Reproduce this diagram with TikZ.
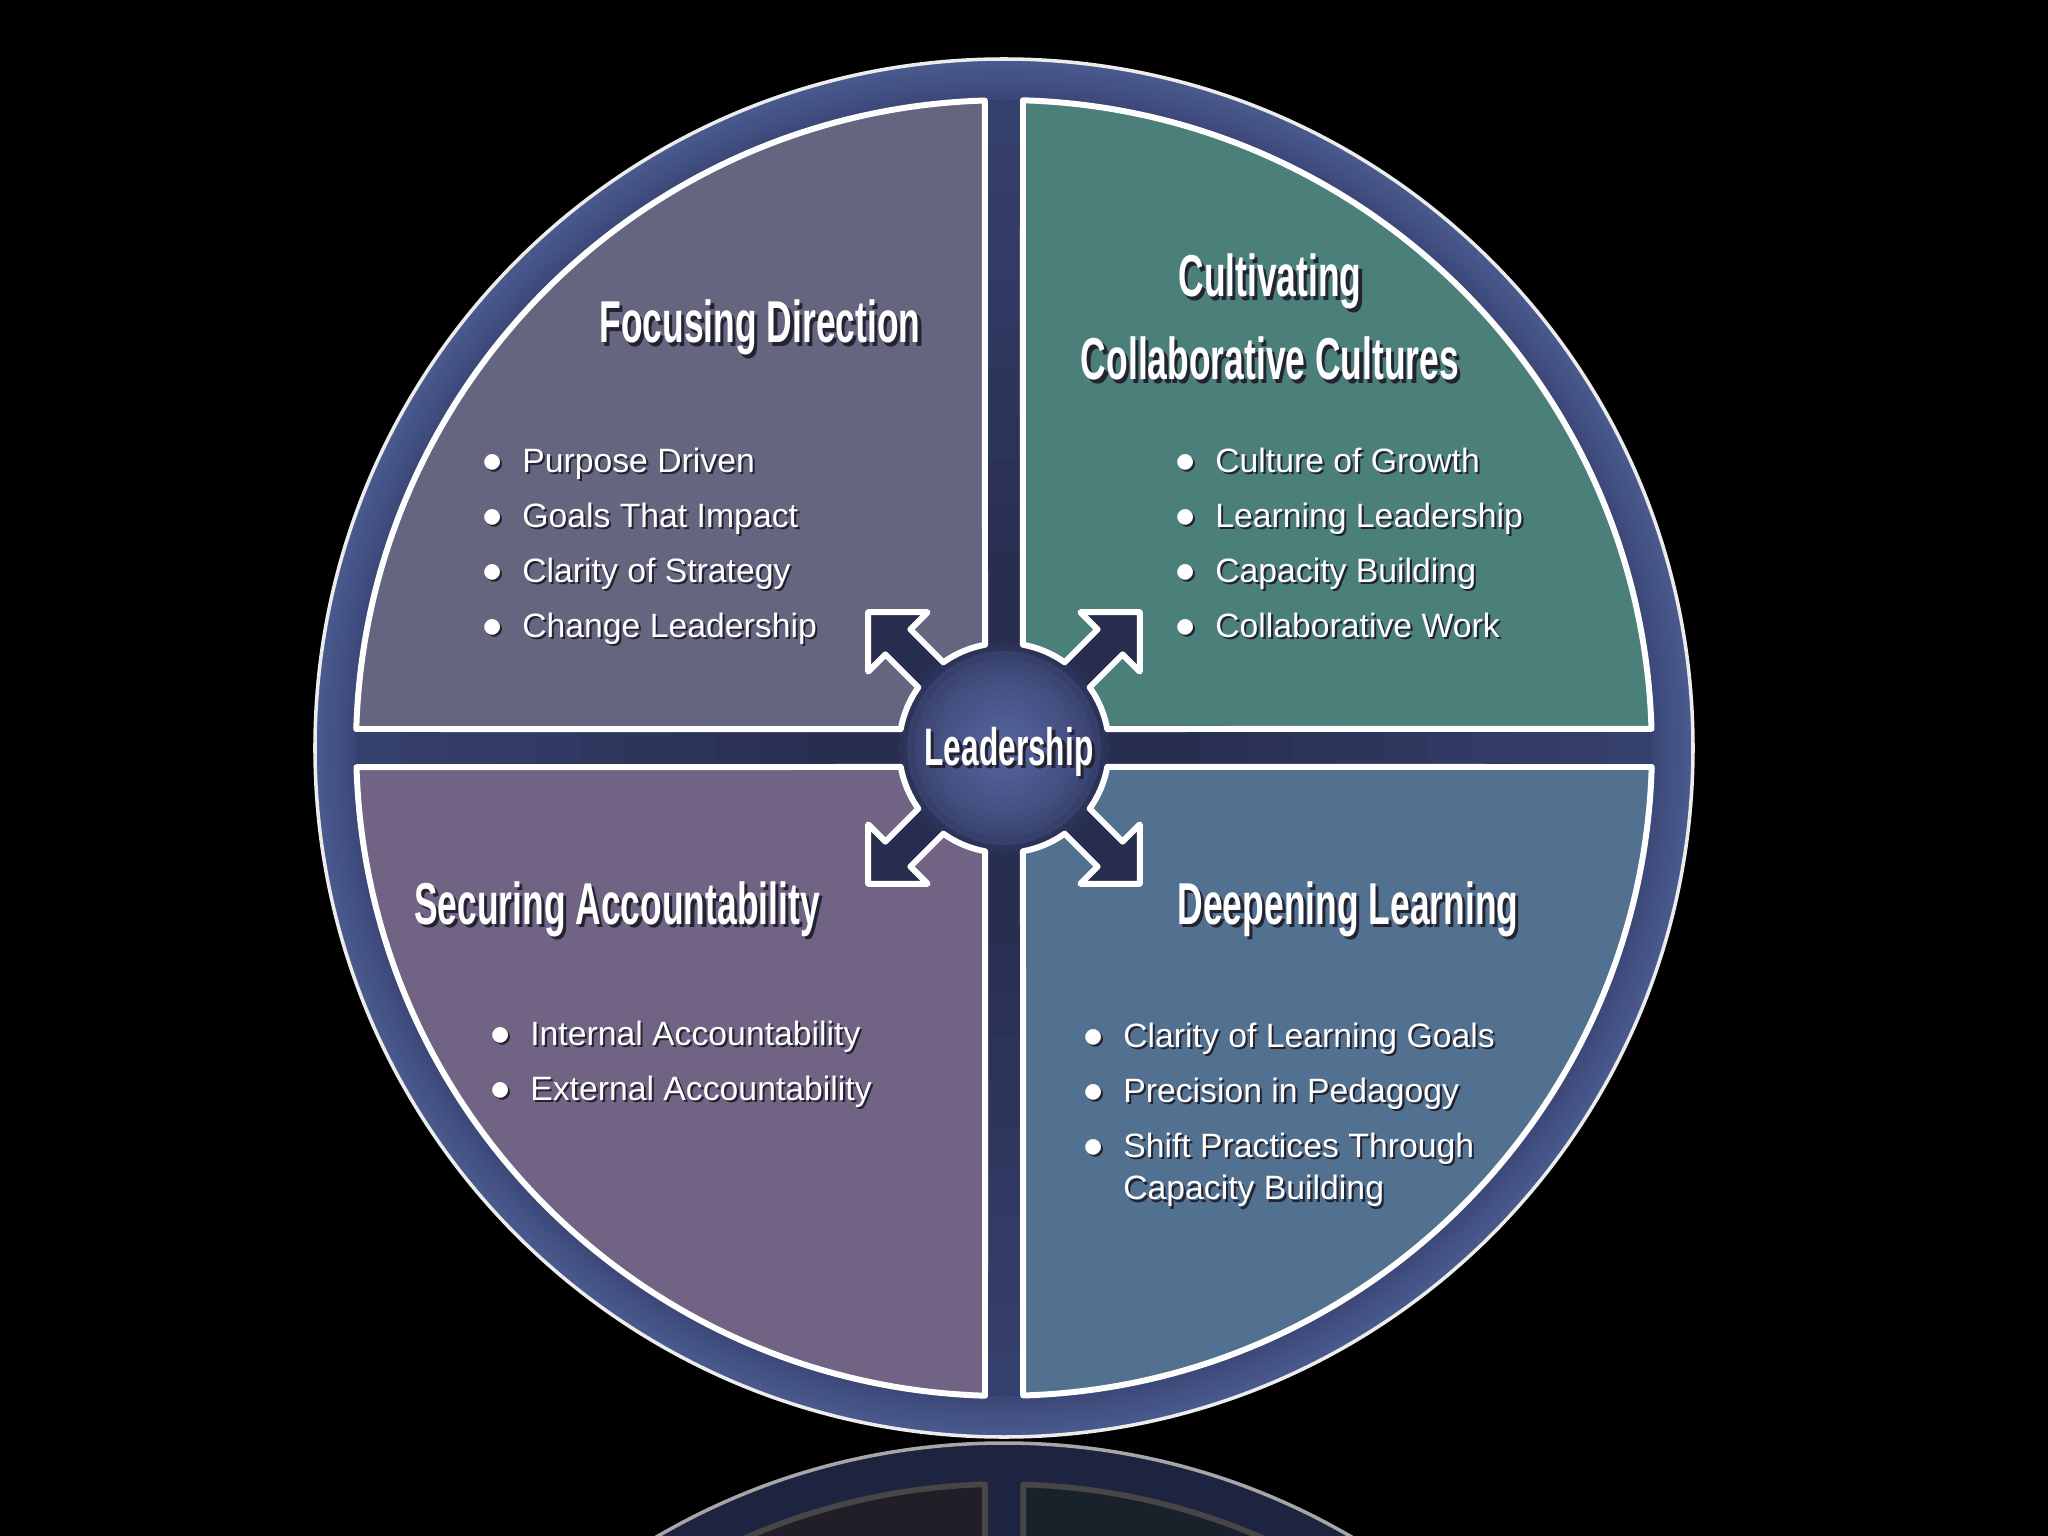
\documentclass[tikz,border=0pt]{standalone}
\usepackage{fontspec}
\usepackage{tikz}

\newfontfamily\headfont{Liberation Sans}[FakeStretch=0.6]
\newfontfamily\itemfont{Liberation Sans}

\definecolor{qteal}{RGB}{74,128,121}
\definecolor{qgray}{RGB}{101,101,128}
\definecolor{qpurple}{RGB}{112,99,132}
\definecolor{qblue}{RGB}{82,112,143}
\definecolor{bandD}{RGB}{40,46,80}
\definecolor{bandL}{RGB}{54,64,108}
\definecolor{ringA}{RGB}{58,70,118}
\definecolor{ringB}{RGB}{74,90,142}
\definecolor{hubC}{RGB}{84,98,156}
\definecolor{hubE}{RGB}{44,51,88}
\definecolor{reflring}{RGB}{30,35,64}
\definecolor{shadowc}{RGB}{35,35,50}

% text with a dark drop shadow
\newcommand{\shad}[2][0.9pt]{\makebox[0pt][l]{\hspace*{#1}\raisebox{-#1}{\color{shadowc}#2}}#2}
\newcommand{\bul}{\shad[0.6pt]{\scalebox{1.15}{$\bullet$}}}

% one quadrant (upper right), notched by the hub and its arrow
\newcommand{\quadpath}{(10.4:105) arc[start angle=10.4, end angle=35.3, radius=105]
  -- (118.6,93.6) -- (135.8,76.4) -- (135.8,135.8) -- (76.4,135.8) -- (93.6,118.6)
  -- (54.7:105) arc[start angle=54.7, end angle=79.6, radius=105]
  -- (19,647.7) arc[start angle=88.3, end angle=1.7, radius=648] -- cycle}

\tikzset{
  quad/.style={draw=white, line width=1.7pt, line join=round},
  head/.style={text=white, font=\headfont\bfseries\fontsize{16.8}{23.6}\selectfont, inner sep=0pt, anchor=base},
  items/.style={text=white, font=\itemfont\fontsize{9.6}{15.65}\selectfont, inner sep=0pt, anchor=base west}
}

\begin{document}
\begin{tikzpicture}[x=0.01cm, y=0.01cm]

\clip (-1004,-788) rectangle (1044,748);
\fill[black] (-1004,-788) rectangle (1044,748);

%reflection
\begin{scope}[shift={(0,-1384)}, yscale=-1]
	\draw[fill=reflring, draw=gray!70, line width=1pt] (0,0) circle (689);
	\foreach \ang/\col in {0/qteal, 90/qgray, 180/qpurple, 270/qblue}
		\draw[draw=gray!55!black, line width=1.6pt, line join=round, fill=\col!30!black, rotate=\ang] \quadpath;
\end{scope}

%rim, bands and hub
\foreach \i [evaluate=\i as \p using int(100-\i*10), evaluate=\i as \r using 689-\i*4] in {0,...,10}
	\fill[ringB!\p!ringA] (0,0) circle (\r);
\foreach \i [evaluate=\i as \p using int(100-\i*10), evaluate=\i as \r using 648-\i*45] in {0,...,10}
	\fill[bandL!\p!bandD] (0,0) circle (\r);
\foreach \i [evaluate=\i as \p using int(100*sqrt(\i/12)), evaluate=\i as \r using 105-\i*8] in {0,...,12}
	\fill[hubC!\p!hubE] (0,0) circle (\r);
\draw[white!85!gray, line width=1pt] (0,0) circle (689);

\foreach \ang/\col in {0/qteal, 90/qgray, 180/qpurple, 270/qblue}{
	\draw[quad, fill=\col, rotate=\ang] \quadpath;
}

\node[head] (fd) at (-244,405) {\shad{Focusing Direction}};
\node[head] (ccc) at (266,451) {\begin{tabular}[t]{@{}c@{}}\shad{Cultivating}\\ \shad{Collaborative Cultures}\end{tabular}};
\node[head] (sa) at (-387,-176) {\shad{Securing Accountability}};
\node[head] (dl) at (344,-176) {\shad{Deepening Learning}};
\node[head, font=\headfont\bfseries\fontsize{15}{18}\selectfont] (lead) at (5,-17) {\shad{Leadership}};

\node[items] (fdlist) at (-522,276) {\begin{tabular}[t]{@{}l@{\hspace{5.5pt}}l@{}}
	\bul & \shad[0.6pt]{Purpose Driven}\\
	\bul & \shad[0.6pt]{Goals That Impact}\\
	\bul & \shad[0.6pt]{Clarity of Strategy}\\
	\bul & \shad[0.6pt]{Change Leadership}
\end{tabular}};

\node[items] (ccclist) at (171,276) {\begin{tabular}[t]{@{}l@{\hspace{5.5pt}}l@{}}
	\bul & \shad[0.6pt]{Culture of Growth}\\
	\bul & \shad[0.6pt]{Learning Leadership}\\
	\bul & \shad[0.6pt]{Capacity Building}\\
	\bul & \shad[0.6pt]{Collaborative Work}
\end{tabular}};

\node[items] (salist) at (-514,-297) {\begin{tabular}[t]{@{}l@{\hspace{5.5pt}}l@{}}
	\bul & \shad[0.6pt]{Internal Accountability}\\
	\bul & \shad[0.6pt]{External Accountability}
\end{tabular}};

\node[items] (dllist) at (79,-299) {\begin{tabular}[t]{@{}l@{\hspace{5.5pt}}l@{}}
	\bul & \shad[0.6pt]{Clarity of Learning Goals}\\
	\bul & \shad[0.6pt]{Precision in Pedagogy}\\
	\bul & \shad[0.6pt]{Shift Practices Through}\\[-3.45pt]
	     & \shad[0.6pt]{Capacity Building}
\end{tabular}};

\end{tikzpicture}
\end{document}
